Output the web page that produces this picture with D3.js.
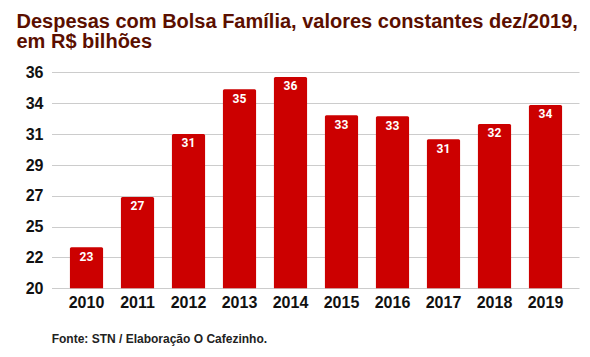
<!DOCTYPE html>
<html><head><meta charset="utf-8">
<script src="https://cdn.jsdelivr.net/npm/d3@7"></script>
<style>body{margin:0;background:#fff}svg{display:block}</style>
</head><body>
<svg id="c" width="590" height="357"></svg>
<script>
const years = ["2010","2011","2012","2013","2014","2015","2016","2017","2018","2019"];
const values = [23.04, 26.76, 31.43, 34.74, 35.65, 32.81, 32.74, 31.04, 32.17, 33.58];
const yTicks = [20, 20+16/7, 20+32/7, 20+48/7, 20+64/7, 20+80/7, 20+96/7, 36];
const titleLines = ["Despesas com Bolsa Família, valores constantes dez/2019,", "em R$ bilhões"];
const source = "Fonte: STN / Elaboração O Cafezinho.";

const svg = d3.select("#c");
const x = d3.scaleBand().domain(years).range([61, 571]).paddingInner(0.35).paddingOuter(0.175);
const y = d3.scaleLinear().domain([20, 36]).range([288.3, 72.3]);

svg.append("g").selectAll("text").data(titleLines).join("text")
  .attr("x", 16.5).attr("y", (d,i)=>28+i*20.3)
  .attr("font-family","Liberation Sans, Arial, sans-serif").attr("font-weight","bold")
  .attr("font-size",20).attr("fill","#5b0f00").text(d=>d);

svg.append("g").selectAll("line").data(yTicks).join("line")
  .attr("x1",52).attr("x2",579.5)
  .attr("y1",d=>Math.round(y(d))+0.5).attr("y2",d=>Math.round(y(d))+0.5)
  .attr("stroke","#cccccc").attr("stroke-width",1);

svg.append("g").selectAll("text").data(yTicks).join("text")
  .attr("x",43.5).attr("y",d=>y(d)).attr("dy","0.36em").attr("text-anchor","end")
  .attr("font-family","Liberation Sans, Arial, sans-serif").attr("font-weight","bold")
  .attr("font-size",16).attr("fill","#111").text(d=>Math.round(d));

svg.append("g").selectAll("path").data(years).join("path")
  .attr("fill","#cc0000")
  .attr("d",(d,i)=>{
    const x0=x(d), w=x.bandwidth(), t=y(values[i]), b=y(20), r=1.5;
    return `M${x0},${b}V${t+r}Q${x0},${t} ${x0+r},${t}H${x0+w-r}Q${x0+w},${t} ${x0+w},${t+r}V${b}Z`;
  });

svg.append("g").selectAll("text").data(years).join("text")
  .attr("x",d=>x(d)+x.bandwidth()/2).attr("y",(d,i)=>y(values[i])+13.4)
  .attr("text-anchor","middle")
  .attr("font-family","Roboto, sans-serif").attr("font-weight","bold")
  .attr("font-size",12).attr("fill","#fff").text((d,i)=>Math.round(values[i]));

svg.append("g").selectAll("text").data(years).join("text")
  .attr("x",d=>x(d)+x.bandwidth()/2).attr("y",308.3).attr("text-anchor","middle")
  .attr("font-family","Liberation Sans, Arial, sans-serif").attr("font-weight","bold")
  .attr("font-size",16).attr("fill","#111").text(d=>d);

svg.append("text").attr("x",51.7).attr("y",343.3)
  .attr("font-family","Liberation Sans, Arial, sans-serif").attr("font-weight","bold")
  .attr("font-size",12).attr("fill","#222").text(source);
</script>
</body></html>
